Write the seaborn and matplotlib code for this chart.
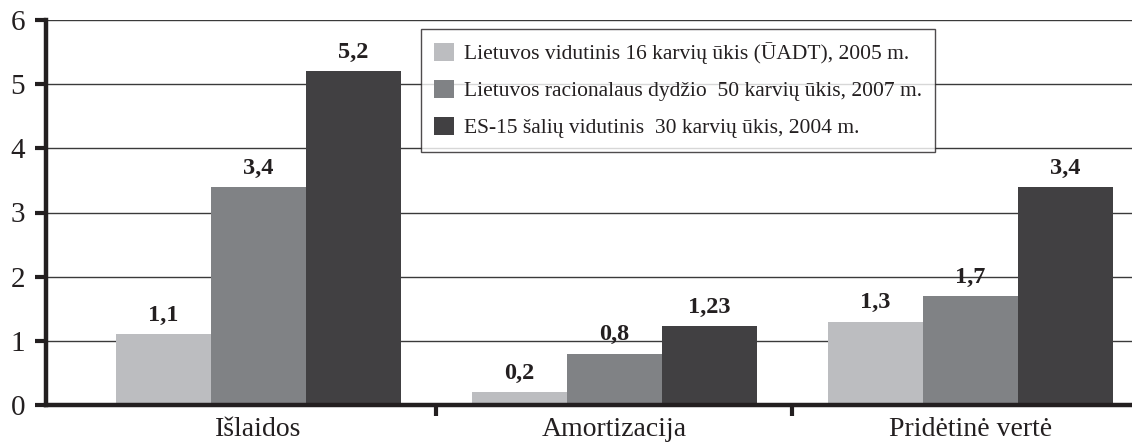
import matplotlib
matplotlib.use("Agg")
import matplotlib.pyplot as plt
import seaborn as sns
import pandas as pd
import numpy as np

categories = ["Išlaidos", "Amortizacija", "Pridėtinė vertė"]
series = [
    "Lietuvos vidutinis 16 karvių ūkis (ŪADT), 2005 m.",
    "Lietuvos racionalaus dydžio  50 karvių ūkis, 2007 m.",
    "ES-15 šalių vidutinis  30 karvių ūkis, 2004 m.",
]
values_lt16 = [1.1, 0.2, 1.3]
values_lt50 = [3.4, 0.8, 1.7]
values_es15 = [5.2, 1.23, 3.4]
value_labels = [["1,1", "0,2", "1,3"], ["3,4", "0,8", "1,7"], ["5,2", "1,23", "3,4"]]
colors = ["#bcbdc0", "#808285", "#414042"]

sns.set_theme(style="white")
plt.rcParams["font.family"] = ["Liberation Serif", "DejaVu Serif"]

rows = []
for s, vals in zip(series, [values_lt16, values_lt50, values_es15]):
    for c, v in zip(categories, vals):
        rows.append({"cat": c, "series": s, "value": v})
df = pd.DataFrame(rows)

fig = plt.figure(figsize=(11.32, 4.46), dpi=100)
ax = fig.add_axes([46 / 1132, 41 / 446, 1 - 46 / 1132, 385 / 446])

sns.barplot(data=df, x="cat", y="value", hue="series", order=categories,
            hue_order=series, palette=colors, width=0.8, gap=0,
            saturation=1, edgecolor="none", linewidth=0, ax=ax, zorder=3)

ax.set_ylim(0, 6)
ax.set_xlim(-0.597, 2.454)
ax.set_yticks(range(0, 7))
ax.yaxis.grid(True, color="#3a3a3a", linewidth=1.0, zorder=0)
ax.set_axisbelow(True)
ax.set_xlabel("")
ax.set_ylabel("")

for side in ["top", "right"]:
    ax.spines[side].set_visible(False)
for side in ["left", "bottom"]:
    ax.spines[side].set_linewidth(3.2)
    ax.spines[side].set_color("#231f20")
    ax.spines[side].set_zorder(5)

ax.tick_params(axis="y", which="major", direction="out", length=8, width=3,
               color="#231f20", labelsize=21, pad=7, left=True)
ax.tick_params(axis="x", which="major", length=0, labelsize=20, pad=9)
ax.set_xticks([0.5, 1.5], minor=True)
ax.tick_params(axis="x", which="minor", direction="out", length=8, width=3,
               color="#231f20", bottom=True)
for t in ax.get_xticklabels() + ax.get_yticklabels():
    t.set_color("#231f20")

for i, cont in enumerate(ax.containers):
    for j, bar in enumerate(cont):
        ax.annotate(value_labels[i][j],
                    (bar.get_x() + bar.get_width() / 2, bar.get_height()),
                    xytext=(0, 6), textcoords="offset points",
                    ha="center", va="bottom", fontsize=17.5, fontweight="bold",
                    color="#231f20")

leg = ax.legend(loc="upper left", bbox_to_anchor=(421 / 1132, 1 - 29 / 446),
                bbox_transform=fig.transFigure, frameon=True, fontsize=15.5,
                handlelength=0.93, handleheight=0.93, handletextpad=0.45,
                labelspacing=0.72, borderpad=0.62, borderaxespad=0,
                fancybox=False)
leg.get_frame().set_edgecolor("#231f20")
leg.get_frame().set_linewidth(1.0)
for t in leg.get_texts():
    t.set_color("#231f20")

fig.savefig("out.png", dpi=100)
